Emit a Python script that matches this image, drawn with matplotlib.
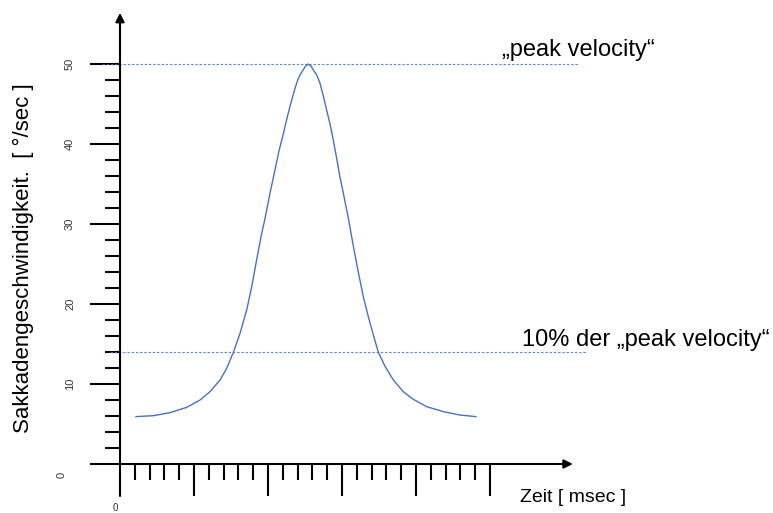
import matplotlib.pyplot as plt

plt.rcParams['font.family'] = ['Liberation Sans', 'DejaVu Sans']

# saccade velocity profile, time in tick units (1 minor tick each), velocity in deg/sec
t_vals = [1.08, 2.25, 3.38, 4.50, 5.41, 6.08, 6.76, 7.21, 7.66, 8.11, 8.56, 8.90,
          9.23, 9.57, 9.80, 10.13, 10.47, 10.75, 11.04, 11.32, 11.60, 11.83, 12.05,
          12.25, 12.39, 12.52, 12.72, 12.92, 13.06, 13.30, 13.51, 13.74, 13.96, 14.19,
          14.41, 14.64, 14.86, 15.15, 15.43, 15.77, 16.10, 16.44, 16.78, 17.12, 17.45,
          17.91, 18.47, 19.14, 19.82, 20.72, 21.85, 22.97, 24.05]
v_vals = [5.92, 6.04, 6.42, 7.08, 8.0, 9.04, 10.5, 11.96, 13.96, 16.33, 19.25, 22.17,
          25.5, 28.8, 30.7, 33.8, 36.75, 39.2, 41.3, 43.5, 45.5, 47.0, 48.2,
          48.9, 49.3, 49.7, 50.0, 49.7, 49.25, 48.6, 47.6, 46.0, 44.25, 42.5,
          40.5, 38.2, 35.9, 33.3, 30.7, 27.2, 24.0, 20.9, 18.4, 16.1, 14.0,
          12.2, 10.5, 9.04, 8.08, 7.17, 6.54, 6.12, 5.92]

peak = 50
threshold = 14
y_major = [0, 10, 20, 30, 40, 50]
y_minor = [2, 4, 6, 8, 12, 14, 16, 18, 22, 24, 26, 28, 32, 34, 36, 38, 42, 44, 46, 48]
x_major = [5, 10, 15, 20, 25]
x_minor = [1, 2, 3, 4, 6, 7, 8, 9, 11, 12, 13, 14, 16, 17, 18, 19, 21, 22, 23, 24]

blue = '#4472C4'

fig = plt.figure(figsize=(7.73, 5.13), dpi=100)
ax = fig.add_axes([0, 0, 1, 1])
ax.set_xlim(-120 / 14.8, 653 / 14.8)
ax.set_ylim(-49 / 8, 58)
ax.axis('off')

# axes with arrow heads
arrow = dict(arrowstyle='-|>', lw=1.5, color='black', mutation_scale=13,
             shrinkA=0, shrinkB=0)
ax.annotate('', xy=(30.6, 0), xytext=(0, 0), arrowprops=arrow)
ax.annotate('', xy=(0, 56.4), xytext=(0, -4), arrowprops=arrow)

# y ticks
for v in y_major:
    ax.plot([-2.03, 0], [v, v], color='black', lw=1.5, solid_capstyle='butt')
for v in y_minor:
    ax.plot([-1.01, 0], [v, v], color='black', lw=1.5, solid_capstyle='butt')
for v in y_major[1:]:
    ax.text(-3.38, v, str(v), rotation=90, ha='center', va='center', fontsize=8,
            color='#333333')
ax.text(-3.92, -1.4, '0', rotation=90, ha='center', va='center', fontsize=8,
        color='#333333')

# x ticks
for t in x_major:
    ax.plot([t, t], [0, -4], color='black', lw=1.5, solid_capstyle='butt')
for t in x_minor:
    ax.plot([t, t], [0, -2], color='black', lw=1.5, solid_capstyle='butt')
ax.text(-0.34, -5.5, '0', ha='center', va='center', fontsize=7, color='#333333')

# reference lines
ax.plot([-1.2, 30.95], [peak, peak], color=blue, lw=0.8, dashes=(2.2, 1.6), alpha=0.85)
ax.plot([-0.68, 31.5], [threshold, threshold], color=blue, lw=0.8, dashes=(2.2, 1.6),
        alpha=0.85)

ax.plot(t_vals, v_vals, color=blue, lw=1.0)

ax.text(25.8, 51.75, '\u201epeak velocity\u201c', ha='left', va='center', fontsize=17)
ax.text(27.16, 15.5, '10% der \u201epeak velocity\u201c', ha='left', va='center', fontsize=17)
ax.text(27.03, -4.25, 'Zeit [ msec ]', ha='left', va='center', fontsize=14)
ax.text(-6.55, 25.75, 'Sakkadengeschwindigkeit.  [ \u00b0/sec ]', rotation=90,
        ha='center', va='center', fontsize=16)

fig.savefig('out.png', dpi=100)
